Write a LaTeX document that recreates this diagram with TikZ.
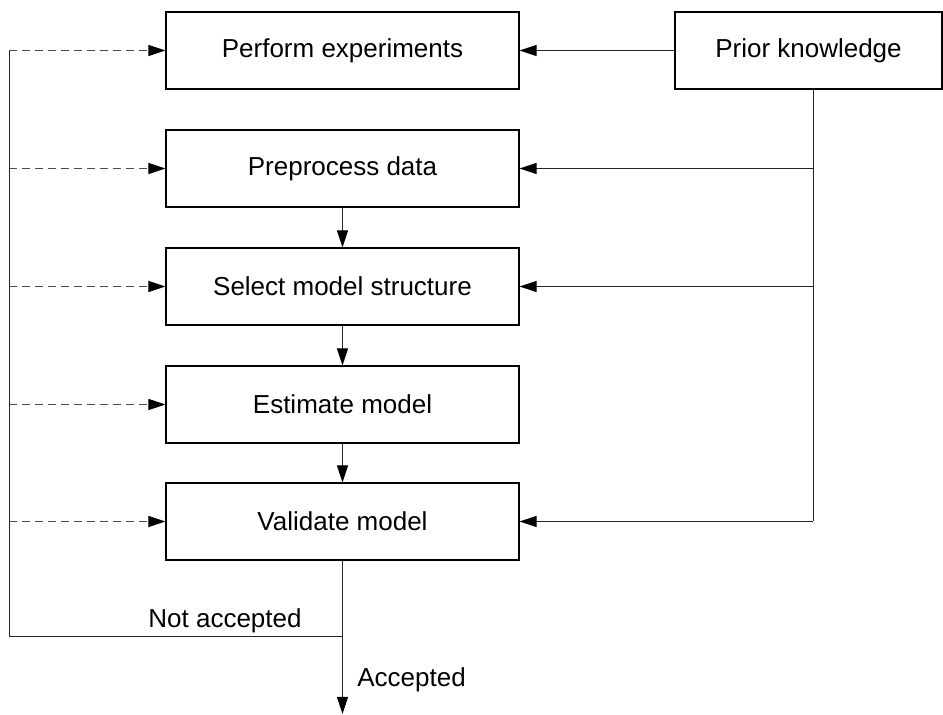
\documentclass[tikz,border=0pt]{standalone}
\usepackage{fontspec}
\setmainfont{Liberation Sans}
\usetikzlibrary{arrows.meta}
\begin{document}
\begin{tikzpicture}[x=0.5pt,y=-0.5pt,
  stage/.style={draw=black,line width=0.6pt,minimum width=176.5pt,minimum height=38.5pt,inner sep=0pt,font=\fontsize{13}{15}\selectfont},
  lbl/.style={inner sep=0pt,font=\fontsize{13}{15}\selectfont},
  head/.style={-{Triangle[length=8.5pt,width=5.5pt,color=black]}},
  flow/.style={draw=black!85,line width=0.5pt,head},
  link/.style={draw=black!85,line width=0.5pt},
  retry/.style={draw=black!70,line width=0.5pt,dash pattern=on 4pt off 2.5pt,head}]
\useasboundingbox (0,0) rectangle (943,715);

% process stages
\node[stage] (exp) at (342.5,50.5) {Perform experiments};
\node[stage] (pre) at (342.5,168.5) {Preprocess data};
\node[stage] (sel) at (342.5,286.5) {Select model structure};
\node[stage] (est) at (342.5,404.5) {Estimate model};
\node[stage] (val) at (342.5,521.5) {Validate model};
\node[stage,minimum width=133.5pt] (prior) at (808.5,50.5) {Prior knowledge};

% prior knowledge feeds
\coordinate (pk) at (813,89);
\coordinate (pkb) at (813,521.5);
\draw[flow] (prior) -- (exp);
\draw[link] (pk) -- (pkb);
\draw[flow] (pk |- pre) -- (pre);
\draw[flow] (pk |- sel) -- (sel);
\draw[flow] (pkb) -- (val);

% main sequence
\draw[flow] (pre) -- (sel);
\draw[flow] (sel) -- (est);
\draw[flow] (est) -- (val);

% outcome of validation
\coordinate (split) at (342.5,637);
\coordinate (loopc) at (9,637);
\coordinate (loopt) at (9,50.5);
\coordinate (out) at (342.5,714);
\draw[link] (val) -- (split);
\draw[flow] (split) -- (out);
\draw[link] (split) -- (loopc) -- (loopt);

% feedback to each stage
\draw[retry] (loopt) -- (exp);
\draw[retry] (loopc |- pre) -- (pre);
\draw[retry] (loopc |- sel) -- (sel);
\draw[retry] (loopc |- est) -- (est);
\draw[retry] (loopc |- val) -- (val);

\node[lbl,anchor=base east] (na) at (302,628) {Not accepted};
\node[lbl,anchor=base west] (acc) at (357,687) {Accepted};
\end{tikzpicture}
\end{document}
